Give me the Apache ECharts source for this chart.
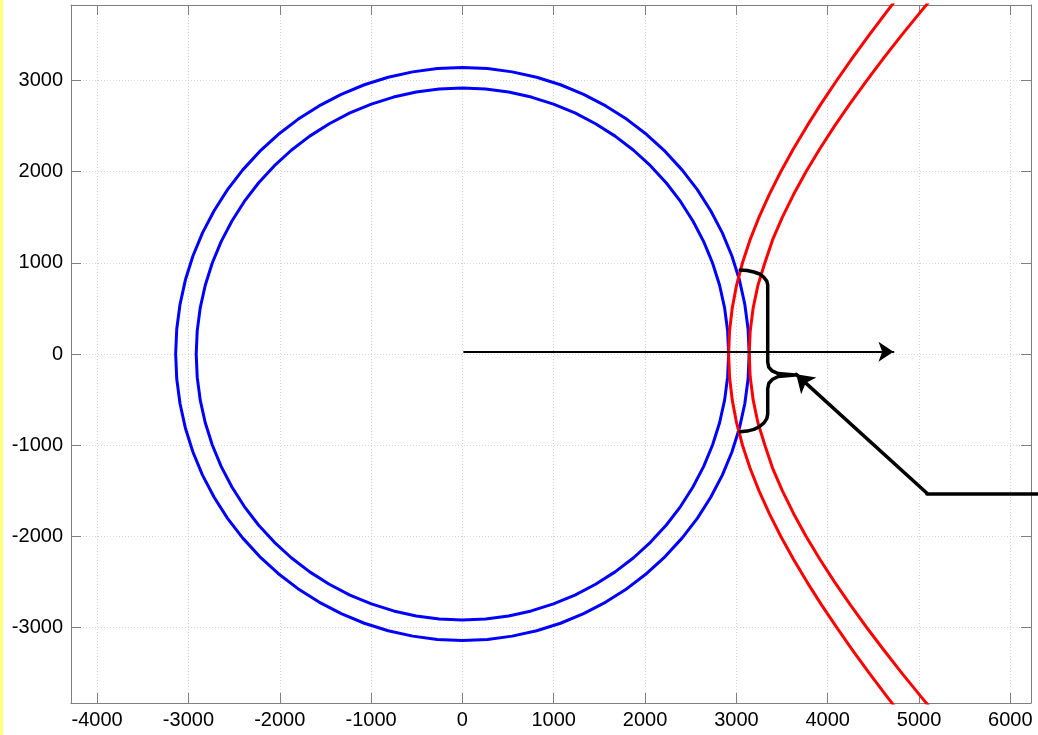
<!DOCTYPE html>
<html><head><meta charset="utf-8">
<script src="https://cdn.jsdelivr.net/npm/echarts@6/dist/echarts.min.js"></script>
<style>html,body{margin:0;padding:0;background:#fff;}#c{width:1038px;height:735px;}</style>
</head><body><div id="c"></div>
<script>
// ---- data ----
const xTicks = [-4000,-3000,-2000,-1000,0,1000,2000,3000,4000,5000,6000];
const yTicks = [-3000,-2000,-1000,0,1000,2000,3000];
const xRange = [-4286, 6226];
const yRange = [-3825, 3825];

const outerCircle = [
[3140,0],[3128,274],[3092,545],[3033,813],[2951,1074],[2846,1327],[2719,1570],[2572,1801],[2405,2018],[2220,2220],
[2018,2405],[1801,2572],[1570,2719],[1327,2846],[1074,2951],[813,3033],[545,3092],[274,3128],[0,3140],
[-274,3128],[-545,3092],[-813,3033],[-1074,2951],[-1327,2846],[-1570,2719],[-1801,2572],[-2018,2405],[-2220,2220],
[-2405,2018],[-2572,1801],[-2719,1570],[-2846,1327],[-2951,1074],[-3033,813],[-3092,545],[-3128,274],[-3140,0],
[-3128,-274],[-3092,-545],[-3033,-813],[-2951,-1074],[-2846,-1327],[-2719,-1570],[-2572,-1801],[-2405,-2018],[-2220,-2220],
[-2018,-2405],[-1801,-2572],[-1570,-2719],[-1327,-2846],[-1074,-2951],[-813,-3033],[-545,-3092],[-274,-3128],[0,-3140],
[274,-3128],[545,-3092],[813,-3033],[1074,-2951],[1327,-2846],[1570,-2719],[1801,-2572],[2018,-2405],[2220,-2220],
[2405,-2018],[2572,-1801],[2719,-1570],[2846,-1327],[2951,-1074],[3033,-813],[3092,-545],[3128,-274],[3140,0]];

const innerCircle = [
[2915,0],[2904,254],[2871,506],[2816,754],[2739,997],[2642,1232],[2524,1458],[2388,1672],[2233,1874],[2061,2061],
[1874,2233],[1672,2388],[1458,2524],[1232,2642],[997,2739],[754,2816],[506,2871],[254,2904],[0,2915],
[-254,2904],[-506,2871],[-754,2816],[-997,2739],[-1232,2642],[-1458,2524],[-1672,2388],[-1874,2233],[-2061,2061],
[-2233,1874],[-2388,1672],[-2524,1458],[-2642,1232],[-2739,997],[-2816,754],[-2871,506],[-2904,254],[-2915,0],
[-2904,-254],[-2871,-506],[-2816,-754],[-2739,-997],[-2642,-1232],[-2524,-1458],[-2388,-1672],[-2233,-1874],[-2061,-2061],
[-1874,-2233],[-1672,-2388],[-1458,-2524],[-1232,-2642],[-997,-2739],[-754,-2816],[-506,-2871],[-254,-2904],[0,-2915],
[254,-2904],[506,-2871],[754,-2816],[997,-2739],[1232,-2642],[1458,-2524],[1672,-2388],[1874,-2233],[2061,-2061],
[2233,-1874],[2388,-1672],[2524,-1458],[2642,-1232],[2739,-997],[2816,-754],[2871,-506],[2904,-254],[2915,0]];

const innerHyperbola = [
[4839,-4000],[4645,-3750],[4457,-3500],[4275,-3250],[4100,-3000],[3932,-2750],[3774,-2500],[3625,-2250],[3487,-2000],
[3361,-1750],[3248,-1500],[3149,-1250],[3067,-1000],[3001,-750],[2954,-500],[2925,-250],[2915,0],
[2925,250],[2954,500],[3001,750],[3067,1000],[3149,1250],[3248,1500],[3361,1750],[3487,2000],
[3625,2250],[3774,2500],[3932,2750],[4100,3000],[4275,3250],[4457,3500],[4645,3750],[4839,4000]];

const outerHyperbola = [
[5225,-4000],[5017,-3750],[4814,-3500],[4618,-3250],[4429,-3000],[4248,-2750],[4076,-2500],[3914,-2250],[3764,-2000],
[3627,-1750],[3504,-1500],[3396,-1250],[3312,-1000],[3235,-750],[3183,-500],[3151,-250],[3140,0],
[3151,250],[3183,500],[3235,750],[3312,1000],[3396,1250],[3504,1500],[3627,1750],[3764,2000],
[3914,2250],[4076,2500],[4248,2750],[4429,3000],[4618,3250],[4814,3500],[5017,3750],[5225,4000]];

const brace = [
[3042,921],[3118,916],[3192,899],[3255,877],[3302,839],[3333,799],[3343,757],
[3343,-88],[3354,-143],[3392,-186],[3458,-214],[3642,-230],
[3458,-247],[3392,-280],[3354,-323],[3343,-384],
[3343,-658],[3333,-708],[3302,-755],[3255,-795],[3192,-826],[3118,-845],[3042,-852]];

const arrowAxis = [[19,25],[4720,25]];
const leaderHoriz = [[6340,-1527],[5087,-1527]];
const leaderDiag = [[5087,-1527],[3655,-223]];

// ---- chart ----
const FONT = 'Liberation Sans, Arial, sans-serif';
const AX = '#7f7f7f';
const chart = echarts.init(document.getElementById('c'), null, {renderer:'canvas'});

function curve(name, data, color, width){
  return {name, type:'line', data, xAxisIndex:0, yAxisIndex:0, showSymbol:false, symbol:'none',
    smooth:false, silent:true, animation:false,
    lineStyle:{color, width, cap:'round', join:'round'}, z:3};
}
function arrowLines(coords, width, size, arrow){
  return {type:'lines', coordinateSystem:'cartesian2d', xAxisIndex:0, yAxisIndex:0, silent:true, z:5,
    clip:false, animation:false,
    symbol: arrow ? ['none','arrow'] : ['none','none'], symbolSize:size,
    itemStyle:{color:'#000'}, lineStyle:{color:'#000', width, opacity:1, curveness:0, cap:'round'},
    data:[{coords}]};
}
const plain = v => String(v);

chart.setOption({
  animation:false,
  backgroundColor:'#ffffff',
  graphic:[{type:'rect', left:0, top:0, shape:{width:3, height:735}, style:{fill:'#ffff80'}, z:100}],
  grid:{left:71, right:7, top:5, bottom:32, containLabel:false},
  xAxis:[
    {type:'value', position:'bottom', min:xRange[0], max:xRange[1],
     axisLine:{show:true, onZero:false, lineStyle:{color:AX, width:1}},
     axisTick:{show:true, inside:true, length:10, customValues:xTicks, lineStyle:{color:AX, width:1}},
     axisLabel:{show:true, customValues:xTicks, formatter:plain, margin:7, color:'#000', fontSize:20, fontFamily:FONT},
     splitLine:{show:true, lineStyle:{color:'#d6d6d6', width:1, type:[1,2]}}},
    {type:'value', position:'top', min:xRange[0], max:xRange[1],
     axisLine:{show:true, onZero:false, lineStyle:{color:AX, width:1}},
     axisTick:{show:true, inside:true, length:10, customValues:xTicks, lineStyle:{color:AX, width:1}},
     axisLabel:{show:false}, splitLine:{show:false}}
  ],
  yAxis:[
    {type:'value', position:'left', min:yRange[0], max:yRange[1],
     axisLine:{show:true, onZero:false, lineStyle:{color:AX, width:1}},
     axisTick:{show:true, inside:true, length:10, customValues:yTicks, lineStyle:{color:AX, width:1}},
     axisLabel:{show:true, customValues:yTicks, formatter:plain, margin:8, color:'#000', fontSize:20, fontFamily:FONT},
     splitLine:{show:true, lineStyle:{color:'#d6d6d6', width:1, type:[1,2]}}},
    {type:'value', position:'right', min:yRange[0], max:yRange[1],
     axisLine:{show:true, onZero:false, lineStyle:{color:AX, width:1}},
     axisTick:{show:true, inside:true, length:10, customValues:yTicks, lineStyle:{color:AX, width:1}},
     axisLabel:{show:false}, splitLine:{show:false}}
  ],
  series:[
    curve('outerCircle', outerCircle, '#0000ff', 3),
    curve('innerCircle', innerCircle, '#0000ff', 3),
    curve('innerHyperbola', innerHyperbola, '#ff0000', 3),
    curve('outerHyperbola', outerHyperbola, '#ff0000', 3),
    curve('brace', brace, '#000000', 3.5),
    arrowLines(arrowAxis, 2, 15, true),
    arrowLines(leaderHoriz, 3.5, 0, false),
    arrowLines(leaderDiag, 3.5, 17, true)
  ]
});
</script>
</body></html>
